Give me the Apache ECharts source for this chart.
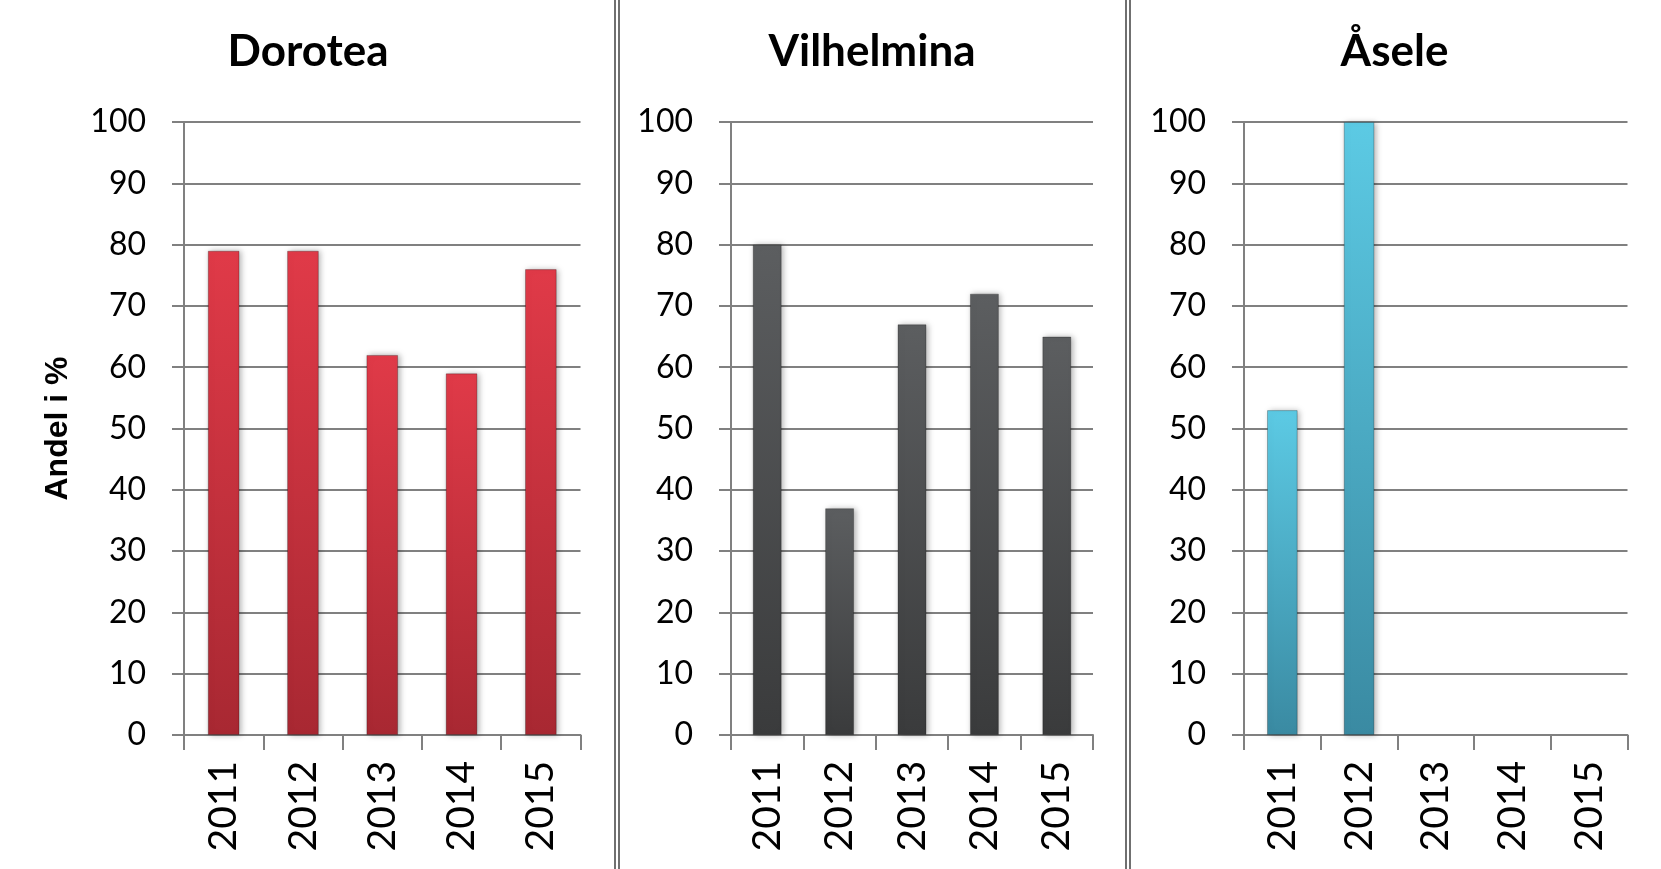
<!DOCTYPE html>
<html>
<head>
<meta charset="utf-8">
<script src="https://cdn.jsdelivr.net/npm/echarts@6/dist/echarts.min.js"></script>
<style>
html,body{margin:0;padding:0;background:#fff;}
#chart{width:1661px;height:869px;}
</style>
</head>
<body>
<div id="chart"></div>
<script>
const years = ['2011', '2012', '2013', '2014', '2015'];
const panelTitles = ['Dorotea', 'Vilhelmina', 'Åsele'];
const dorotea = [79, 79, 62, 59, 76];
const vilhelmina = [80, 37, 67, 72, 65];
const asele = [53, 100, null, null, null];
const yTicks = [0, 10, 20, 30, 40, 50, 60, 70, 80, 90, 100];
const yAxisName = 'Andel i %';

const seriesData = [dorotea, vilhelmina, asele];
const grids = [
  {left: 184, top: 122, width: 396.5, height: 613},
  {left: 731, top: 122, width: 362, height: 613},
  {left: 1244, top: 122, width: 383.5, height: 613}
];
const panelCenters = [308, 872, 1394.5];
const gradients = [
  ['#e03a48', '#a82832'],
  ['#5c5e60', '#3a3b3c'],
  ['#5ccae4', '#3a8aa2']
];

const chart = echarts.init(document.getElementById('chart'));
const gridColor = '#808080';

const option = {
  animation: false,
  backgroundColor: '#ffffff',
  grid: grids.map(g => Object.assign({containLabel: false}, g)),
  xAxis: grids.map((g, i) => ({
    type: 'category',
    gridIndex: i,
    data: years,
    boundaryGap: true,
    axisLine: {show: true, lineStyle: {color: gridColor, width: 2}},
    axisTick: {show: true, length: 15, alignWithLabel: false, lineStyle: {color: gridColor, width: 2}},
    axisLabel: {rotate: 90, margin: 26, color: '#000', fontFamily: 'Lato', fontSize: 39, interval: 0}
  })),
  yAxis: grids.map((g, i) => ({
    type: 'value',
    gridIndex: i,
    min: 0, max: 100, interval: 10,
    name: i === 0 ? yAxisName : '',
    nameLocation: 'middle',
    nameGap: 110,
    nameRotate: 90,
    nameTextStyle: {fontFamily: 'Liberation Sans', fontWeight: 'bold', fontSize: 32, color: '#000'},
    axisLine: {show: true, lineStyle: {color: gridColor, width: 2}},
    axisTick: {show: true, length: 12, lineStyle: {color: gridColor, width: 2}},
    splitLine: {show: true, lineStyle: {color: gridColor, width: 2}},
    axisLabel: {
      margin: 38, color: '#000', fontFamily: 'Lato', fontSize: 32,
      formatter: v => yTicks.indexOf(v) >= 0 ? String(v) : ''
    }
  })),
  series: seriesData.map((d, i) => ({
    type: 'bar',
    xAxisIndex: i,
    yAxisIndex: i,
    data: d,
    barCategoryGap: '60%',
    itemStyle: {
      color: new echarts.graphic.LinearGradient(0, 0, 0, 1, [
        {offset: 0, color: gradients[i][0]},
        {offset: 1, color: gradients[i][1]}
      ]),
      borderColor: 'rgba(0,0,0,0.25)',
      borderWidth: 1,
      shadowColor: 'rgba(0,0,0,0.3)',
      shadowBlur: 6,
      shadowOffsetX: 2
    }
  })),
  graphic: [
    ...panelTitles.map((t, i) => ({
      type: 'text',
      x: panelCenters[i],
      y: 52,
      style: {
        text: t,
        font: 'bold 44px Lato',
        fill: '#000',
        textAlign: 'center',
        textVerticalAlign: 'middle'
      }
    })),
    ...[615, 619, 1126, 1130].map(x => ({
      type: 'line',
      shape: {x1: x, y1: 0, x2: x, y2: 869},
      style: {stroke: '#707070', lineWidth: 2}
    }))
  ]
};
chart.setOption(option);
</script>
</body>
</html>
